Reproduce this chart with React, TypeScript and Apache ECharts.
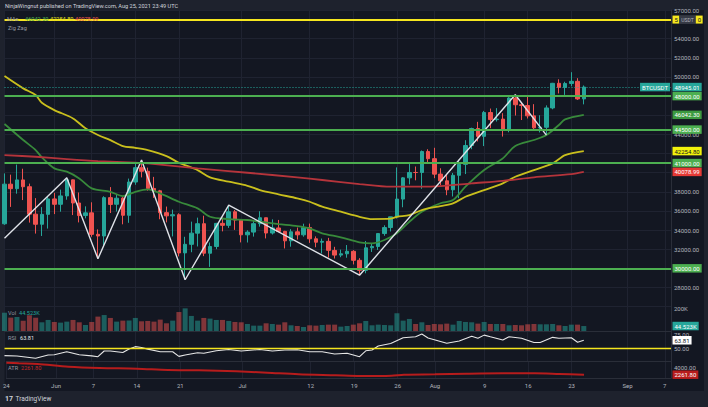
import React, { useEffect, useRef } from "react";
import * as echarts from "echarts";

const FONT = "Roboto, 'Liberation Sans', sans-serif";
const UP = "#26a69a";
const DOWN = "#ef5350";
const GRID_C = "#1f2331";
const SEP_C = "#2a2e39";
const AXIS_TXT = "#b2b5be";

const START = Date.UTC(2021, 4, 24);
const DAY_COUNT = 108;
const dates: string[] = Array.from({ length: DAY_COUNT }, (_, i) =>
  new Date(START + i * 86400000).toISOString().slice(0, 10)
);

const tickLabels: Record<string, string> = {
  "2021-05-24": "24",
  "2021-06-01": "Jun",
  "2021-06-07": "7",
  "2021-06-14": "14",
  "2021-06-21": "21",
  "2021-07-01": "Jul",
  "2021-07-12": "12",
  "2021-07-19": "19",
  "2021-07-26": "26",
  "2021-08-01": "Aug",
  "2021-08-09": "9",
  "2021-08-16": "16",
  "2021-08-23": "23",
  "2021-09-01": "Sep",
  "2021-09-07": "7",
};

const opens = [
  34655, 38796, 38324, 39241, 38529, 35661, 34606, 35641, 37254, 36694, 37568, 39246, 36829, 35516, 35796, 33556,
  33380, 37389, 36697, 37340, 35546, 39020, 40516, 40143, 38349, 38099, 35820, 35483, 35600, 31614, 32510, 33675,
  34663, 31577, 32283, 34702, 34494, 35911, 35045, 33503, 33786, 34668, 35288, 33691, 34220, 33863, 32875, 33815,
  33502, 34259, 33086, 32729, 32820, 31874, 31383, 31520, 31778, 30839, 29790, 32144, 32287, 33635, 34261, 35381,
  37237, 39456, 40019, 40018, 42206, 41461, 39850, 39146, 38207, 39723, 40868, 42836, 44614, 43795, 46281, 45543,
  45595, 44428, 47794, 47097, 47019, 45937, 44686, 44742, 46763, 49340, 48906, 49322, 49546, 47706,
];
const highs = [
  39920, 39791, 40841, 40411, 38856, 37338, 36400, 37499, 37894, 38225, 39476, 39289, 37925, 36480, 36900, 34069,
  37534, 38491, 37680, 37436, 39380, 41064, 41330, 40527, 39560, 38200, 36457, 36137, 35750, 33298, 34881, 35298,
  35500, 32700, 34749, 35297, 36600, 36100, 35057, 33977, 34945, 35967, 35293, 35118, 35059, 33920, 34100, 34262,
  34666, 34678, 33340, 33114, 33185, 32249, 31955, 32435, 31899, 31063, 32858, 32591, 33650, 34500, 35398, 40550,
  39542, 40900, 40640, 42316, 42448, 42599, 40459, 39780, 39969, 41350, 43392, 44700, 45310, 46454, 46700, 46743,
  46218, 47886, 48144, 47372, 48053, 47160, 46000, 47033, 49382, 49757, 49500, 50500, 49874, 49111,
];
const lows = [
  34551, 36419, 37800, 37134, 34779, 33632, 33379, 34154, 35667, 35920, 37170, 35567, 34800, 35222, 33300, 31000,
  32396, 35782, 35936, 34600, 34757, 38730, 39506, 38116, 37365, 35129, 34803, 33336, 31251, 28805, 31683, 32286,
  31275, 30151, 32000, 33862, 34225, 34017, 32711, 32699, 33316, 34357, 33125, 33532, 33777, 32077, 32261, 33005,
  33306, 32658, 32202, 31550, 31133, 31021, 31164, 31108, 30407, 29278, 29482, 31708, 31924, 33401, 33851, 35205,
  36383, 38772, 39200, 38313, 41000, 39422, 38690, 37642, 37508, 37332, 39853, 42446, 43261, 42779, 44650, 45341,
  43770, 44217, 45971, 45500, 45660, 44376, 44203, 43927, 46622, 48279, 48125, 49029, 47600, 47138,
];
const closes = [
  38796, 38324, 39241, 38529, 35663, 34606, 35641, 37253, 36693, 37568, 39246, 36829, 35513, 35796, 33552, 33380,
  37388, 36675, 37331, 35546, 39020, 40516, 40144, 38349, 38092, 35819, 35483, 35600, 31608, 32509, 33678, 34663,
  31584, 32283, 34700, 34494, 35911, 35045, 33504, 33786, 34669, 35287, 33690, 34220, 33862, 32875, 33815, 33502,
  34259, 33086, 32729, 32820, 31880, 31383, 31520, 31778, 30839, 29790, 32144, 32287, 33634, 34258, 35381, 37237,
  39457, 40019, 40016, 42206, 41461, 39845, 39147, 38207, 39723, 40862, 42836, 44614, 43792, 46285, 45543, 45595,
  44428, 47793, 47097, 47019, 45936, 44686, 44741, 46763, 49339, 48905, 49321, 49546, 47706, 48945.01,
];
const volumes = [
  164000, 120000, 126000, 92000, 141000, 119000, 78000, 99000, 81000, 75000, 84000, 99000, 78000, 54000, 81000, 129000,
  143000, 117000, 84000, 93000, 93000, 117000, 87000, 90000, 84000, 102000, 69000, 93000, 170000, 203000, 135000, 93000,
  117000, 111000, 99000, 99000, 90000, 81000, 78000, 63000, 48000, 48000, 69000, 63000, 57000, 78000, 51000, 45000,
  36000, 51000, 48000, 54000, 57000, 57000, 39000, 45000, 57000, 69000, 90000, 51000, 57000, 54000, 51000, 159000,
  93000, 108000, 63000, 78000, 54000, 63000, 60000, 66000, 57000, 90000, 81000, 78000, 66000, 81000, 63000, 63000,
  63000, 51000, 54000, 51000, 60000, 63000, 60000, 60000, 63000, 51000, 45000, 57000, 57000, 44523,
];

const ma20Points = [
  [0, 45080], [3, 43410], [5, 42360], [6, 41600], [8, 40450], [10, 40100], [12, 39400], [14, 38360], [17, 38000],
  [19, 37555], [21, 38000], [23, 38255], [25, 37840], [28, 36960], [31, 36270], [33, 35390], [36, 35150], [39, 35050],
  [41, 34870], [44, 34630], [47, 34420], [49, 34180], [51, 33660], [54, 33240], [57, 32720], [59, 32610], [61, 32960],
  [63, 33660], [65, 34870], [67, 35915], [70, 36800], [72, 37140], [74, 38530], [77, 40270], [80, 41495], [82, 42780],
  [85, 43410], [87, 43930], [89, 44975], [90, 45570], [93, 46042.3],
];
const ma50Points = [
  [0, 50095], [3, 48810], [5, 48110], [6, 47305], [8, 46540], [11, 45670], [13, 44630], [15, 43930], [17, 43400],
  [19, 42780], [21, 42600], [23, 42360], [26, 41735], [28, 41035], [31, 40270], [33, 39510], [36, 39050], [39, 38630],
  [41, 38180], [44, 37730], [47, 37315], [49, 36960], [51, 36440], [54, 35915], [57, 35390], [59, 35150], [62, 35185],
  [63, 35390], [65, 35570], [67, 36090], [70, 36510], [72, 36790], [74, 37480], [77, 38180], [80, 38880], [82, 39570],
  [85, 40270], [88, 40970], [90, 41840], [93, 42254.8],
];
const ma200Points = [
  [0, 41840], [5, 41660], [10, 41420], [15, 41210], [21, 41035], [23, 40970], [31, 40450], [39, 39990], [47, 39510],
  [51, 39230], [57, 38810], [62, 38530], [67, 38530], [70, 38600], [75, 38880], [80, 39150], [85, 39510], [91, 39850],
  [93, 40078.99],
];
const zigzagPoints = [
  [0, 33150], [10, 39476], [15, 31000], [22, 41330], [29, 28805], [36, 36600], [57, 29278], [82, 48144], [87, 43927],
];
const rsiPoints = [
  [0, 36.3], [2, 35.7], [5, 31.6], [7, 37.5], [8, 38], [10, 43.4], [12, 38], [14, 36], [15, 34.5], [16, 44.6],
  [17, 44.6], [19, 42], [20, 48.2], [21, 52.4], [22, 50.8], [23, 48], [25, 43.4], [27, 43.4], [28, 35], [29, 37.5],
  [31, 41.6], [32, 40.5], [34, 45], [36, 47.4], [38, 44.6], [41, 47.4], [43, 44.6], [45, 46.5], [47, 47], [49, 43.4],
  [51, 43.4], [53, 39.3], [55, 40.5], [57, 34.5], [58, 45], [59, 46.4], [60, 53.6], [62, 58], [64, 68.4], [66, 70],
  [67, 75], [68, 68], [71, 58.6], [73, 62.5], [75, 71], [76, 67.5], [77, 73], [78, 70], [80, 64.4], [81, 70],
  [83, 67.5], [85, 59.8], [86, 59.8], [88, 69], [89, 67.5], [91, 68.4], [92, 60.3], [93, 63.81],
];
const atrPoints = [
  [0, 5240], [2, 5090], [5, 4920], [10, 4250], [15, 3925], [21, 3750], [26, 3430], [31, 3355], [37, 3110], [42, 2760],
  [47, 2360], [53, 2115], [57, 1940], [62, 2015], [64, 2260], [69, 2360], [74, 2510], [80, 2610], [85, 2610],
  [89, 2450], [93, 2261.8],
];

const supportLevels = [48000, 44500, 41000, 30000];
const resistanceTop = 56000;
const lastPrice = 48945.01;
const rsiLevel = 50;
const hiddenPriceLabels = [26000, 30000, 40000, 42000, 46000, 48000, 56000];

const fmt2 = (v: number) => v.toFixed(2);
const NO_LINE = { color: "rgba(0,0,0,0)", width: 1, type: "solid" };

function tag(value: number, text: string, bg: string, fg: string, lineStyle?: any, position = "end", extraLabel: any = {}) {
  return {
    yAxis: value,
    lineStyle: lineStyle ?? NO_LINE,
    label: {
      show: true,
      position,
      formatter: text,
      backgroundColor: bg,
      color: fg,
      fontSize: 6,
      fontFamily: FONT,
      padding: [1.5, 2, 1, 2],
      distance: 1.5,
      ...extraLabel,
    },
  };
}

const isTick = (_i: number, v: string) => v in tickLabels;

function baseX(gridIndex: number, extra: any = {}) {
  return {
    type: "category",
    data: dates,
    gridIndex,
    boundaryGap: false,
    axisLine: { show: false },
    axisTick: { show: false },
    axisLabel: { show: false },
    splitLine: { show: true, interval: isTick, lineStyle: { color: GRID_C, width: 1 } },
    ...extra,
  };
}

function baseY(gridIndex: number, extra: any = {}) {
  return {
    type: "value",
    gridIndex,
    position: "right",
    axisLine: { show: true, lineStyle: { color: SEP_C } },
    axisTick: { show: false },
    splitLine: { show: false },
    axisLabel: { color: AXIS_TXT, fontSize: 6, fontFamily: FONT, margin: 3 },
    ...extra,
  };
}

const L = 4.5;
const W = 666.5;

const legendText = (x: number, y: number, text: string, fill: string, size = 6, weight: any = "normal") => ({
  type: "text",
  x,
  y,
  z: 100,
  silent: true,
  style: { text, fill, fontSize: size, fontFamily: FONT, fontWeight: weight, verticalAlign: "middle", align: "left" },
});

const option: any = {
  animation: false,
  backgroundColor: "#1e222d",
  textStyle: { fontFamily: FONT },
  graphic: [
    { type: "rect", z: -100, silent: true, shape: { x: L, y: 10, width: 699.5, height: 381 }, style: { fill: "#131722" } },
    legendText(5, 5.5, "NinjaWingnut published on TradingView.com, Aug 25, 2021 23:49 UTC", "#d1d4dc", 5.6),
    legendText(7, 19, "MAs", "#9598a1", 5.6),
    legendText(25, 19, "46042.30", "#4caf50", 5.6),
    legendText(50, 19, "42254.80", "#e8e01a", 5.6),
    legendText(75, 19, "40078.99", "#ef5350", 5.6),
    legendText(8, 28, "Zig Zag", "#9598a1", 5.6),
    legendText(8, 313, "Vol", "#9598a1", 5.6),
    legendText(19, 313, "44.523K", UP, 5.6),
    legendText(8, 338, "RSI", "#9598a1", 5.6),
    legendText(20, 338, "63.81", "#e0e3eb", 5.6),
    legendText(8, 368, "ATR", "#9598a1", 5.6),
    legendText(21, 368, "2261.80", "#c62828", 5.6),
    legendText(5, 398.5, "17", "#d1d4dc", 7, "bold"),
    legendText(15.5, 398.5, "TradingView", "#d1d4dc", 6.5),
  ],
  grid: [
    { left: L, width: W, top: 10, height: 296.6 },
    { left: L, width: W, top: 305, height: 26 },
    { left: L, width: W, top: 331, height: 31 },
    { left: L, width: W, top: 361, height: 17 },
  ],
  xAxis: [
    baseX(0),
    baseX(1, { position: "top", axisLine: { show: true, lineStyle: { color: SEP_C } } }),
    baseX(2, { position: "top", axisLine: { show: true, lineStyle: { color: SEP_C } } }),
    baseX(3, {
      position: "bottom",
      axisLine: { show: true, lineStyle: { color: SEP_C } },
      axisLabel: {
        show: true,
        interval: isTick,
        formatter: (v: string) => tickLabels[v] ?? "",
        color: AXIS_TXT,
        fontSize: 6,
        fontFamily: FONT,
        margin: 4,
      },
    }),
    baseX(3, { position: "top", axisLine: { show: true, lineStyle: { color: SEP_C } }, splitLine: { show: false } }),
  ],
  yAxis: [
    baseY(0, {
      min: 26000,
      max: 57000,
      interval: 2000,
      splitLine: { show: true, lineStyle: { color: GRID_C, width: 1 } },
      axisLabel: {
        color: AXIS_TXT,
        fontSize: 6,
        fontFamily: FONT,
        margin: 3,
        formatter: (v: number) => (hiddenPriceLabels.includes(v) ? "" : fmt2(v)),
      },
    }),
    baseY(1, {
      min: 0,
      max: 233000,
      interval: 100000,
      axisLabel: {
        color: AXIS_TXT,
        fontSize: 6,
        fontFamily: FONT,
        margin: 3,
        formatter: (v: number) => (v === 200000 ? "200K" : ""),
      },
    }),
    baseY(2, {
      min: 25,
      max: 80.36,
      interval: 25,
      axisLabel: {
        color: AXIS_TXT,
        fontSize: 6,
        fontFamily: FONT,
        margin: 3,
        formatter: (v: number) => (v === 50 || v === 75 ? fmt2(v) : ""),
      },
    }),
    baseY(3, {
      min: 1446,
      max: 5662,
      axisLabel: {
        color: AXIS_TXT,
        fontSize: 6,
        fontFamily: FONT,
        margin: 3,
        formatter: (v: number) => (Math.abs(v - 4000) < 1 ? fmt2(v) : ""),
      },
    }),
  ],
  series: [
    {
      type: "candlestick",
      xAxisIndex: 0,
      yAxisIndex: 0,
      barWidth: 4,
      data: opens.map((o, i) => [o, closes[i], lows[i], highs[i]]),
      itemStyle: { color: UP, color0: DOWN, borderColor: UP, borderColor0: DOWN, borderWidth: 1 },
    },
    {
      type: "line",
      name: "MA20",
      xAxisIndex: 0,
      yAxisIndex: 0,
      data: ma20Points,
      showSymbol: false,
      smooth: 0.3,
      lineStyle: { color: "#388a3b", width: 1.8 },
    },
    {
      type: "line",
      name: "MA50",
      xAxisIndex: 0,
      yAxisIndex: 0,
      data: ma50Points,
      showSymbol: false,
      smooth: 0.3,
      lineStyle: { color: "#c9bf1d", width: 1.8 },
    },
    {
      type: "line",
      name: "MA200",
      xAxisIndex: 0,
      yAxisIndex: 0,
      data: ma200Points,
      showSymbol: false,
      smooth: 0.3,
      lineStyle: { color: "#b5343b", width: 1.8 },
    },
    {
      type: "line",
      name: "ZigZag",
      xAxisIndex: 0,
      yAxisIndex: 0,
      data: zigzagPoints,
      showSymbol: false,
      clip: false,
      lineStyle: { color: "#dfe2e8", width: 1.4 },
      markLine: {
        silent: true,
        symbol: ["none", "none"],
        animation: false,
        data: [
          tag(resistanceTop, "{y|5}{u|USDT}{y|0}", "transparent", "#131722", { color: "#f5e61f", width: 2, type: "solid" }, "end", {
            padding: 0,
            rich: {
              y: { backgroundColor: "#f5e61f", color: "#131722", fontSize: 6, fontFamily: FONT, padding: [1.5, 1.5, 1, 2], height: 5.5 },
              u: { backgroundColor: "#363a45", color: "#b2b5be", fontSize: 5, fontFamily: FONT, padding: [1.8, 2, 1.5, 2], height: 5.5 },
            },
          }),
          tag(lastPrice, fmt2(lastPrice), UP, "#ffffff", { color: UP, width: 1, type: [1, 2] }),
          tag(lastPrice, "BTCUSDT", UP, "#ffffff", NO_LINE, "insideEnd", { distance: 1 }),
          ...supportLevels.map((lv) =>
            tag(lv, fmt2(lv), "#4caf50", "#ffffff", { color: "#4caf50", width: 2, type: "solid" })
          ),
          tag(46042.3, "46042.30", "#3c9a40", "#ffffff"),
          tag(42254.8, "42254.80", "#f2f20c", "#131722"),
          tag(40078.99, "40078.99", "#e53935", "#ffffff"),
        ],
      },
    },
    {
      type: "bar",
      xAxisIndex: 1,
      yAxisIndex: 1,
      barWidth: 5,
      clip: false,
      data: volumes.map((v, i) => ({
        value: v,
        itemStyle: { color: closes[i] >= opens[i] ? "rgba(38,166,154,0.5)" : "rgba(239,83,80,0.5)" },
      })),
      markLine: {
        silent: true,
        symbol: ["none", "none"],
        animation: false,
        data: [tag(44523, "44.523K", UP, "#ffffff")],
      },
    },
    {
      type: "line",
      xAxisIndex: 2,
      yAxisIndex: 2,
      data: rsiPoints,
      showSymbol: false,
      clip: false,
      lineStyle: { color: "#e6e6e6", width: 1.1 },
      markLine: {
        silent: true,
        symbol: ["none", "none"],
        animation: false,
        data: [
          { yAxis: rsiLevel, lineStyle: { color: "#f5e61f", width: 1.4, type: "solid" }, label: { show: false } },
          tag(63.81, "63.81", "#ffffff", "#131722"),
        ],
      },
    },
    {
      type: "line",
      xAxisIndex: 3,
      yAxisIndex: 3,
      data: atrPoints,
      showSymbol: false,
      clip: false,
      smooth: 0.3,
      lineStyle: { color: "#b71c1c", width: 2 },
      markLine: {
        silent: true,
        symbol: ["none", "none"],
        animation: false,
        data: [tag(2261.8, "2261.80", "#b71c1c", "#ffffff")],
      },
    },
  ],
};

export default function App() {
  const ref = useRef<HTMLDivElement>(null);
  useEffect(() => {
    document.body.style.margin = "0";
    const chart = echarts.init(ref.current as HTMLDivElement, undefined, { renderer: "svg" });
    chart.setOption(option);
    return () => chart.dispose();
  }, []);
  return <div ref={ref} style={{ width: 708, height: 407 }} />;
}
